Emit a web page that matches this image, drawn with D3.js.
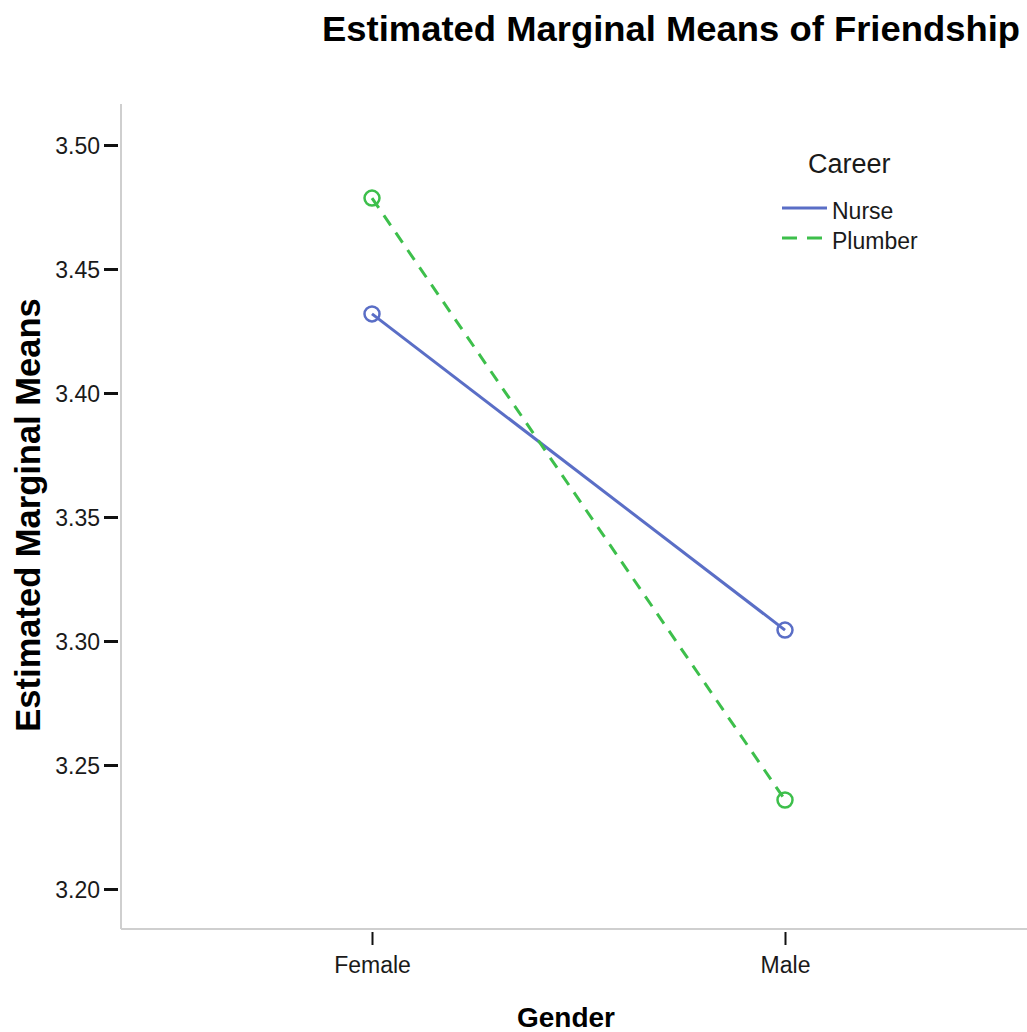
<!DOCTYPE html>
<html>
<head>
<meta charset="utf-8">
<script src="https://cdn.jsdelivr.net/npm/d3@7"></script>
<style>
  html, body { margin: 0; padding: 0; background: #fff; }
  svg { display: block; font-family: "Liberation Sans", Arial, sans-serif; }
</style>
</head>
<body>
<svg id="chart" width="1027" height="1032"></svg>
<script>
const categories = ["Female", "Male"];
const seriesNames = ["Nurse", "Plumber"];
const nurseValues = [3.4319, 3.3044];
const plumberValues = [3.4786, 3.2359];
const yTicks = [3.20, 3.25, 3.30, 3.35, 3.40, 3.45, 3.50];
const titleText = "Estimated Marginal Means of Friendship";
const xTitle = "Gender";
const yTitle = "Estimated Marginal Means";
const legendTitle = "Career";

const colors = { Nurse: "#5a6ec6", Plumber: "#3dbf4b" };
const dashes = { Nurse: null, Plumber: "12,9" };

const svg = d3.select("#chart");
const plot = { left: 121, right: 1027, top: 104, bottom: 929 };

const y = d3.scaleLinear()
  .domain([3.20 - 40 / 124 * 0.05, 3.50 + 41 / 124 * 0.05])
  .range([plot.bottom, plot.top]);
const x = d3.scalePoint()
  .domain(categories)
  .range([372, 785]);

// Title
svg.append("text")
  .attr("x", 671).attr("y", 41)
  .attr("text-anchor", "middle")
  .attr("font-weight", "bold")
  .attr("font-size", 35)
  .attr("textLength", 698)
  .attr("lengthAdjust", "spacingAndGlyphs")
  .attr("fill", "#000")
  .text(titleText);

// Axis frame lines
svg.append("line")
  .attr("x1", plot.left).attr("x2", plot.left)
  .attr("y1", plot.top).attr("y2", plot.bottom)
  .attr("stroke", "#cfcfcf").attr("stroke-width", 2);
svg.append("line")
  .attr("x1", plot.left).attr("x2", plot.right)
  .attr("y1", plot.bottom).attr("y2", plot.bottom)
  .attr("stroke", "#cfcfcf").attr("stroke-width", 2);

// Y axis ticks
const yAxis = d3.axisLeft(y)
  .tickValues(yTicks)
  .tickFormat(d3.format(".2f"))
  .tickSize(14)
  .tickPadding(4);
const gy = svg.append("g")
  .attr("transform", `translate(${plot.left - 3},0)`)
  .call(yAxis);
gy.select(".domain").remove();
gy.selectAll(".tick line").attr("stroke", "#111").attr("stroke-width", 3);
gy.selectAll(".tick text")
  .attr("font-family", "'Liberation Sans', Arial, sans-serif")
  .attr("font-size", 23)
  .attr("fill", "#1a1a1a")
  .attr("dy", "0.36em");

// X axis ticks
const xAxis = d3.axisBottom(x)
  .tickSize(13)
  .tickPadding(6);
const gx = svg.append("g")
  .attr("transform", `translate(0,${plot.bottom + 3})`)
  .call(xAxis);
gx.select(".domain").remove();
gx.selectAll(".tick line").attr("stroke", "#111").attr("stroke-width", 2);
gx.selectAll(".tick text")
  .attr("font-family", "'Liberation Sans', Arial, sans-serif")
  .attr("font-size", 23)
  .attr("fill", "#1a1a1a")
  .attr("dy", "0.95em");

// Axis titles
svg.append("text")
  .attr("x", 566).attr("y", 1027)
  .attr("text-anchor", "middle")
  .attr("font-weight", "bold")
  .attr("font-size", 28)
  .attr("fill", "#000")
  .text(xTitle);
svg.append("text")
  .attr("transform", "translate(40,515) rotate(-90)")
  .attr("text-anchor", "middle")
  .attr("font-weight", "bold")
  .attr("font-size", 34.5)
  .attr("fill", "#000")
  .text(yTitle);

// Series
const series = [
  { name: "Nurse", values: nurseValues },
  { name: "Plumber", values: plumberValues }
];
const line = d3.line()
  .x((d, i) => x(categories[i]))
  .y(d => y(d));

series.forEach(s => {
  svg.append("path")
    .datum(s.values)
    .attr("d", line)
    .attr("fill", "none")
    .attr("stroke", colors[s.name])
    .attr("stroke-width", 3)
    .attr("stroke-dasharray", dashes[s.name]);
  svg.selectAll(null)
    .data(s.values)
    .enter().append("circle")
    .attr("cx", (d, i) => x(categories[i]))
    .attr("cy", d => y(d))
    .attr("r", 7.5)
    .attr("fill", "none")
    .attr("stroke", colors[s.name])
    .attr("stroke-width", 2.5);
});

// Legend
svg.append("text")
  .attr("x", 808).attr("y", 173)
  .attr("font-size", 27)
  .attr("fill", "#1a1a1a")
  .text(legendTitle);
seriesNames.forEach((name, i) => {
  const ly = 208 + i * 30;
  svg.append("line")
    .attr("x1", 782).attr("x2", 827)
    .attr("y1", ly).attr("y2", ly)
    .attr("stroke", colors[name])
    .attr("stroke-width", 3)
    .attr("stroke-dasharray", name === "Plumber" ? "15,10" : null);
  svg.append("text")
    .attr("x", 832).attr("y", ly + 11)
    .attr("font-size", 23)
    .attr("fill", "#1a1a1a")
    .text(name);
});
</script>
</body>
</html>
